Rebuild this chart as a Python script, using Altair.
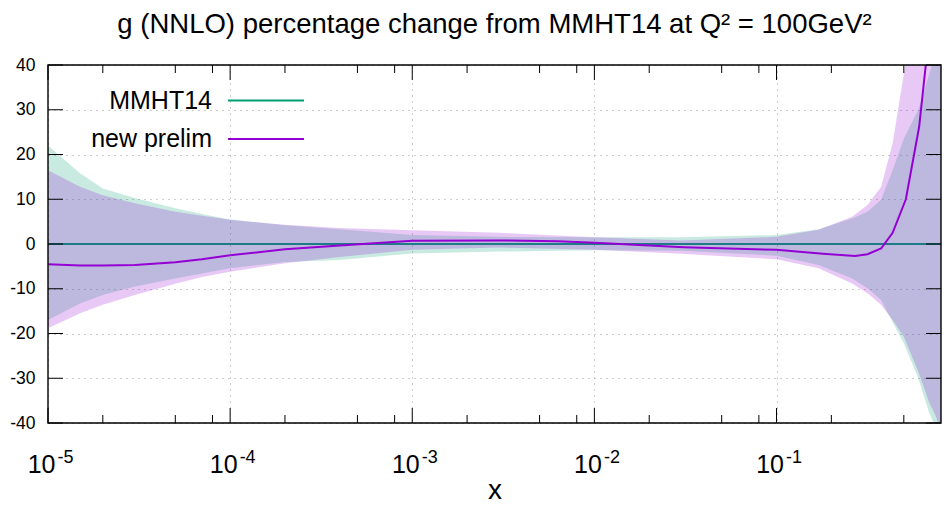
import altair as alt
import pandas as pd

# ---------------- data ----------------
x_band = [1e-5, 1.5e-5, 2e-5, 3e-5, 5e-5, 7e-5, 1e-4, 2e-4, 4e-4, 1e-3, 3e-3, 1e-2,
          3e-2, 0.1, 0.17, 0.26, 0.316, 0.375, 0.434, 0.5, 0.6, 0.69, 0.75, 0.8]
mmht_up = [22, 15.8, 12.4, 10.3, 8.0, 6.7, 5.5, 4.2, 3.3, 2.0, 1.6, 1.5,
           1.5, 2.0, 3.3, 5.7, 7.2, 9.9, 16.5, 23.6, 30, 38, 43, 47]
mmht_dn = [-17, -13.3, -11.4, -9.5, -7.7, -6.6, -5.4, -4.0, -3.6, -2.1, -1.7, -1.4,
           -1.5, -2.6, -4.7, -7.7, -9.9, -12.5, -17.5, -22.2, -30, -37.8, -41, -47]
new_up = [16.5, 12.8, 10.9, 9.1, 7.2, 6.3, 5.4, 4.3, 3.6, 3.1, 2.5, 1.5,
          0.8, 1.6, 3.2, 6.1, 8.7, 12.8, 22.5, 38, 58, 75, 85, 90]
new_dn = [-18.8, -15.5, -13.6, -11.4, -8.9, -7.4, -6.2, -4.3, -2.9, -1.3, -0.8, -1.3,
          -2.2, -3.4, -5.4, -8.8, -11, -13.6, -17, -20.7, -28.5, -35.5, -38.5, -42]

line_x = [1e-5, 1.5e-5, 2e-5, 3e-5, 5e-5, 7e-5, 1e-4, 2e-4, 4.2e-4, 1e-3, 2.9e-3, 6.3e-3,
          1e-2, 3.1e-2, 0.1, 0.18, 0.27, 0.316, 0.375, 0.434, 0.513, 0.607, 0.66, 0.70]
line_y = [-4.5, -4.8, -4.8, -4.7, -4.1, -3.4, -2.5, -1.2, -0.3, 0.7, 0.8, 0.6,
          0.3, -0.7, -1.3, -2.2, -2.7, -2.3, -1.0, 2.5, 10, 26.2, 40, 51]

mmht_x = [1e-5, 0.8]
mmht_y = [0, 0]

x_major = [1e-5, 1e-4, 1e-3, 1e-2, 1e-1]
x_minor = [2e-5, 5e-5, 8e-5, 2e-4, 5e-4, 8e-4, 2e-3, 5e-3, 8e-3,
           2e-2, 5e-2, 8e-2, 0.2, 0.5]
y_ticks = [-40, -30, -20, -10, 0, 10, 20, 30, 40]

series_names = ["MMHT14", "new prelim"]
title_text = "g (NNLO) percentage change from MMHT14 at Q\u00b2 = 100GeV\u00b2"

# ---------------- styling ----------------
W, H = 893, 358
FONT = "Liberation Sans"
GREEN = "#009e73"
PURPLE = "#9400d3"
BAND_OP = 0.21

xs = alt.Scale(type="log", domain=[1e-5, 0.8], nice=False)
ys = alt.Scale(domain=[-40, 40], nice=False, zero=False)

band_df = pd.DataFrame({"x": x_band, "mu": mmht_up, "md": mmht_dn,
                        "nu": new_up, "nd": new_dn})
line_df = pd.DataFrame({"x": line_x, "y": line_y})
mmht_df = pd.DataFrame({"x": mmht_x, "y": mmht_y})
xmaj_df = pd.DataFrame({"x": x_major})
xmin_df = pd.DataFrame({"x": x_minor})
ytick_df = pd.DataFrame({"y": y_ticks})
one_df = pd.DataFrame({"a": [0]})

ax_main = alt.Axis(
    values=x_major, orient="bottom", labelExpr="'10'",
    ticks=False, tickSize=0, domain=False,
    grid=True, gridDash=[1, 5], gridColor="#9a9a9a", gridWidth=1,
    labelFont=FONT, labelFontSize=25, labelColor="black",
    labelAlign="right", labelOffset=7, labelBaseline="alphabetic",
    labelPadding=49, labelFlush=False, labelOverlap=False, labelBound=False,
    title="x", titleFont=FONT, titleFontSize=28, titleFontWeight="normal",
    titleColor="black", titleBaseline="alphabetic", titleY=75,
)
ax_exp = alt.Axis(
    values=x_major, orient="bottom",
    labelExpr="'' + round(log(datum.value) / LN10)",
    ticks=False, tickSize=0, domain=False, grid=False,
    labelFont=FONT, labelFontSize=18, labelColor="black",
    labelAlign="left", labelOffset=9, labelBaseline="alphabetic",
    labelPadding=39, labelFlush=False, labelOverlap=False, labelBound=False,
    title=None,
)
ay_main = alt.Axis(
    values=y_ticks, orient="left", labelExpr="'' + datum.value",
    ticks=False, tickSize=0, domain=False,
    grid=True, gridDash=[1, 5], gridColor="#9a9a9a", gridWidth=1,
    labelFont=FONT, labelFontSize=17.5, labelColor="black",
    labelAlign="right", labelBaseline="middle", labelPadding=13,
    labelFlush=False, labelOverlap=False, labelBound=False, title=None,
)

green_band = alt.Chart(band_df).mark_area(
    color=GREEN, opacity=BAND_OP, clip=True, orient="vertical"
).encode(
    x=alt.X("x:Q", scale=xs, axis=ax_main),
    y=alt.Y("md:Q", scale=ys, axis=ay_main),
    y2="mu:Q",
)
green_line = alt.Chart(mmht_df).mark_line(color=GREEN, strokeWidth=2.2, clip=True).encode(
    x=alt.X("x:Q", scale=xs, axis=None),
    y=alt.Y("y:Q", scale=ys, axis=None),
)
purple_band = alt.Chart(band_df).mark_area(
    color=PURPLE, opacity=BAND_OP, clip=True, orient="vertical"
).encode(
    x=alt.X("x:Q", scale=xs, axis=None),
    y=alt.Y("nd:Q", scale=ys, axis=None),
    y2="nu:Q",
)
purple_line = alt.Chart(line_df).mark_line(color=PURPLE, strokeWidth=2, clip=True).encode(
    x=alt.X("x:Q", scale=xs, axis=None),
    y=alt.Y("y:Q", scale=ys, axis=None),
)

# inward tick marks (gnuplot style) on all four sides
tick_major_bottom = alt.Chart(xmaj_df).mark_rule(color="black", strokeWidth=1).encode(
    x=alt.X("x:Q", scale=xs, axis=ax_exp), y=alt.value(H), y2=alt.value(H - 15))
tick_major_top = alt.Chart(xmaj_df).mark_rule(color="black", strokeWidth=1).encode(
    x=alt.X("x:Q", scale=xs, axis=None), y=alt.value(0), y2=alt.value(15))
tick_minor_bottom = alt.Chart(xmin_df).mark_rule(color="black", strokeWidth=1).encode(
    x=alt.X("x:Q", scale=xs, axis=None), y=alt.value(H), y2=alt.value(H - 8))
tick_minor_top = alt.Chart(xmin_df).mark_rule(color="black", strokeWidth=1).encode(
    x=alt.X("x:Q", scale=xs, axis=None), y=alt.value(0), y2=alt.value(8))
tick_left = alt.Chart(ytick_df).mark_rule(color="black", strokeWidth=1).encode(
    y=alt.Y("y:Q", scale=ys, axis=None), x=alt.value(0), x2=alt.value(15))
tick_right = alt.Chart(ytick_df).mark_rule(color="black", strokeWidth=1).encode(
    y=alt.Y("y:Q", scale=ys, axis=None), x=alt.value(W), x2=alt.value(W - 15))

border = alt.Chart(one_df).mark_rect(filled=False, stroke="black", strokeWidth=1.4).encode(
    x=alt.value(0), x2=alt.value(W), y=alt.value(0), y2=alt.value(H))

# legend (labels left of line samples, as in gnuplot)
leg_items = []
for i, (name, col) in enumerate(zip(series_names, [GREEN, PURPLE])):
    yy = 35.5 + 38.5 * i
    ldf = pd.DataFrame({"label": [name]})
    leg_items.append(alt.Chart(ldf).mark_text(
        font=FONT, fontSize=25, align="right", baseline="middle", color="black"
    ).encode(text="label:N", x=alt.value(164), y=alt.value(yy)))
    leg_items.append(alt.Chart(ldf).mark_rule(color=col, strokeWidth=2).encode(
        x=alt.value(180), x2=alt.value(256), y=alt.value(yy)))

chart = alt.layer(
    green_band, green_line, purple_band, purple_line,
    tick_major_bottom, tick_major_top, tick_minor_bottom, tick_minor_top,
    tick_left, tick_right, border, *leg_items,
).resolve_axis(x="independent", y="independent").properties(
    width=W, height=H,
    autosize=alt.AutoSizeParams(type="none"),
    padding={"left": 40, "top": 57, "right": 1, "bottom": 81},
    title=alt.TitleParams(
        text=title_text, font=FONT, fontSize=27.5,
        fontWeight="normal", color="black", anchor="middle", offset=18,
    ),
).configure_view(stroke=None)

chart.save("out.html", embed_options={"renderer": "svg", "actions": False})
